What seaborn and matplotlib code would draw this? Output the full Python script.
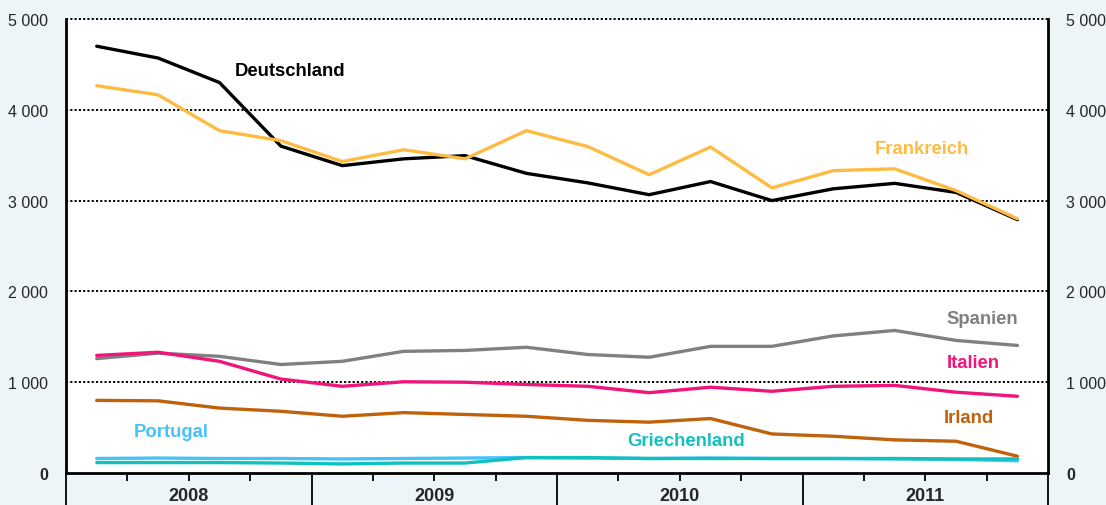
import seaborn as sns
import matplotlib.pyplot as plt
import matplotlib.transforms as mtransforms
import pandas as pd

# Quartale 2008 Q1 bis 2011 Q4
quartale = list(range(16))
jahre = ['2008', '2009', '2010', '2011']

deutschland = [4700, 4570, 4300, 3600, 3385, 3460, 3495, 3300, 3195, 3065, 3210, 3000, 3130, 3190, 3090, 2790]
frankreich = [4265, 4165, 3770, 3660, 3430, 3560, 3460, 3770, 3595, 3285, 3590, 3140, 3330, 3350, 3110, 2800]
spanien = [1260, 1320, 1285, 1195, 1230, 1340, 1350, 1385, 1305, 1275, 1395, 1395, 1510, 1570, 1460, 1405]
italien = [1295, 1330, 1230, 1035, 955, 1005, 1000, 975, 955, 885, 945, 900, 955, 965, 890, 845]
irland = [800, 795, 715, 680, 625, 665, 645, 625, 580, 560, 600, 430, 405, 365, 350, 185]
portugal = [160, 165, 160, 160, 155, 160, 165, 170, 165, 160, 165, 160, 160, 155, 150, 135]
griechenland = [115, 115, 115, 110, 100, 110, 110, 170, 170, 160, 160, 160, 160, 160, 155, 155]

laender = ['Deutschland', 'Frankreich', 'Spanien', 'Italien', 'Irland', 'Portugal', 'Griechenland']
werte = [deutschland, frankreich, spanien, italien, irland, portugal, griechenland]
farben = {'Deutschland': '#000000', 'Frankreich': '#fdbb42', 'Spanien': '#808080',
          'Italien': '#f0157a', 'Irland': '#c0620c', 'Portugal': '#44c2fa',
          'Griechenland': '#12c0c0'}

df = pd.DataFrame([(q, land, w) for land, reihe in zip(laender, werte) for q, w in zip(quartale, reihe)],
                  columns=['quartal', 'land', 'wert'])

sns.set_style('white')
plt.rcParams['font.family'] = ['Liberation Sans', 'DejaVu Sans']

bg = '#edf5f8'
fig = plt.figure(figsize=(11.06, 5.06), dpi=100, facecolor=bg)
ax = fig.add_axes([0.0597, 0.0632, 0.888, 0.8973])
ax.set_facecolor('white')

sns.lineplot(data=df, x='quartal', y='wert', hue='land', hue_order=laender,
             palette=farben, linewidth=2.4, legend=False, ax=ax, zorder=3)

ax.set_xlim(-0.5, 15.5)
ax.set_ylim(0, 5000)
ax.set_xlabel('')
ax.set_ylabel('')

# Gitter gepunktet
for y in [1000, 2000, 3000, 4000, 5000]:
    ax.axhline(y, color='black', linestyle=(0, (1.1, 1.1)), linewidth=1.4, zorder=1, clip_on=False)

# y-Achse links und rechts
yt = [0, 1000, 2000, 3000, 4000, 5000]
ax.set_yticks(yt)
ax.set_yticklabels(['0', '1 000', '2 000', '3 000', '4 000', '5 000'])
ax.tick_params(axis='y', length=0, pad=13, labelsize=11.5, labelright=True, labelleft=True)
for lbl in ax.get_yticklabels():
    if lbl.get_text() == '0':
        lbl.set_fontweight('bold')

# x-Achse: Quartals- und Jahresstriche
ax.set_xticks([-0.5, 3.5, 7.5, 11.5, 15.5])
ax.set_xticks([0.5, 1.5, 2.5, 4.5, 5.5, 6.5, 8.5, 9.5, 10.5, 12.5, 13.5, 14.5], minor=True)
ax.set_xticklabels([])
ax.tick_params(axis='x', which='major', length=24, width=1.3, color='black', bottom=True)
ax.tick_params(axis='x', which='minor', length=6, width=1.3, color='black', bottom=True)

trans = mtransforms.blended_transform_factory(ax.transData, ax.transAxes)
for i, j in enumerate(jahre):
    ax.text(1.5 + 4 * i, -0.05, j, transform=trans, ha='center', va='center',
            fontsize=13, fontweight='bold')

for s in ['left', 'right', 'bottom']:
    ax.spines[s].set_visible(True)
    ax.spines[s].set_color('black')
    ax.spines[s].set_linewidth(2)
ax.spines['top'].set_visible(False)

# Beschriftungen der Linien
beschriftung = {'Deutschland': (3.15, 4435), 'Frankreich': (13.45, 3575), 'Spanien': (14.42, 1705),
                'Italien': (14.28, 1220), 'Irland': (14.21, 615), 'Portugal': (1.21, 462),
                'Griechenland': (9.6, 363)}
for land, (x, y) in beschriftung.items():
    ax.text(x, y, land, color=farben[land], fontsize=13.3, fontweight='bold', va='center', ha='center', zorder=4)

plt.savefig('out.png', dpi=100, facecolor=bg)
